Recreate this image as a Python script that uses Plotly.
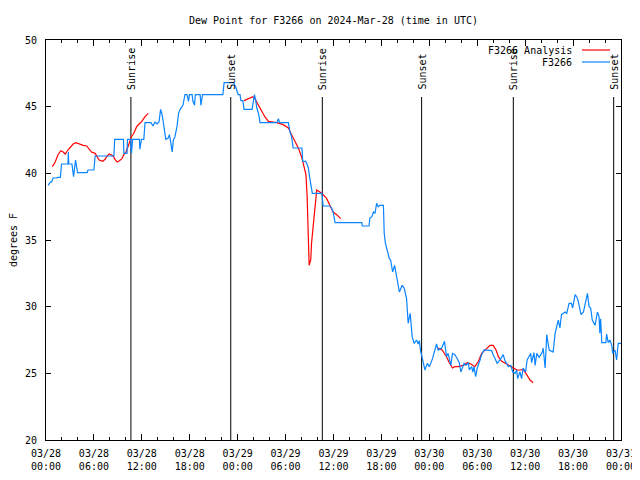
import pandas as pd
import plotly.graph_objects as go

START = pd.Timestamp("2024-03-28 00:00")

# Observed dew point (F3266): hours since 03/28 00:00 UTC, degrees F
obs_hours = [0.25, 0.5, 0.75, 0.88, 1.25, 1.5, 1.8, 1.95, 2.75, 2.8, 2.85, 3.25, 3.45, 3.7, 3.95,
             5.15, 5.25, 6.0, 6.15, 8.5, 8.6, 9.7, 9.75, 10.15, 10.2, 10.6, 10.7, 10.85, 11.7, 11.75,
             11.95, 12.25, 12.4, 13.15, 13.4, 13.65, 13.9, 14.15, 14.35, 14.5, 14.65, 14.85, 15.0,
             15.3, 15.45, 15.6, 15.8, 15.95, 16.15, 16.4, 16.6, 16.8, 17.15, 17.4, 17.65, 17.85,
             17.95, 18.3, 18.4, 18.6, 18.7, 19.3, 19.4, 19.6, 22.15, 22.3, 23.5, 23.8, 24.05, 24.3,
             24.4, 24.65, 24.8, 25.8, 26.0, 26.1, 26.25, 26.4, 26.65, 26.8, 28.9, 29.1, 29.25, 30.35,
             30.55, 30.75, 30.95, 32.05, 32.15, 32.5, 32.65, 32.85, 33.0, 33.2, 33.35, 34.55, 34.7,
             35.55, 35.75, 35.95, 36.2, 39.55, 39.6, 40.45, 40.55, 40.8, 41.0, 41.2, 41.4, 41.6, 41.8,
             42.25, 42.35, 42.5, 42.75, 43.0, 43.15, 43.4, 43.65, 44.0, 44.25, 44.6, 44.85, 45.15,
             45.35, 45.6, 45.85, 46.1, 46.4, 46.6, 46.75, 46.9, 47.05, 47.45, 47.75, 48.0, 48.4, 48.9,
             49.1, 49.55, 49.9, 50.15, 50.35, 50.7, 50.9, 51.2, 51.5, 51.75, 51.95, 52.35, 52.6, 52.9,
             53.0, 53.3, 53.45, 53.6, 53.8, 54.0, 54.35, 54.55, 54.85, 55.8, 56.0, 56.5, 56.85, 57.25,
             57.5, 57.9, 58.2, 58.45, 58.75, 58.95, 59.05, 59.35, 59.55, 59.75, 60.05, 60.25, 60.7,
             60.8, 61.1, 61.25, 61.45, 61.75, 62.15, 62.25, 62.5, 62.7, 63.0, 63.5, 63.75, 63.85,
             64.15, 64.35, 64.55, 65.0, 65.2, 65.5, 65.8, 65.95, 66.25, 66.45, 66.65, 67.0, 67.3,
             67.8, 68.0, 68.2, 68.4, 68.75, 69.05, 69.25, 69.35, 69.45, 69.6, 70.1, 70.2, 70.4, 70.6,
             70.85, 70.95, 71.25, 71.45, 71.65, 72.0]
obs_dewpt = [39.1, 39.3, 39.4, 39.65, 39.65, 39.7, 39.7, 40.7, 40.7, 41.6, 40.7, 40.7, 39.75, 41.0, 40.05,
             40.05, 40.25, 40.25, 41.3, 41.3, 42.55, 42.55, 41.5, 41.5, 42.55, 42.55, 41.5, 42.55, 42.55, 41.8,
             42.55, 42.55, 43.8, 43.8, 43.55, 43.85, 43.7, 43.85, 44.8, 44.5, 44.0, 43.25, 42.55,
             42.65, 42.9, 42.4, 41.6, 42.5, 42.75, 43.5, 44.5, 44.8, 45.1, 45.9, 45.9, 45.4,
             45.9, 45.9, 45.4, 45.1, 45.9, 45.9, 45.1, 45.9, 45.9, 46.8, 46.8, 46.4, 45.9, 45.9,
             45.45, 45.45, 44.8, 44.8, 45.7, 45.9, 45.5, 44.9, 44.4, 43.8, 43.8, 44.1, 43.8, 43.8,
             43.1, 42.75, 41.9, 41.9, 40.9, 40.9, 40.75, 40.4, 39.75, 39.0, 38.5, 38.5, 37.55,
             37.55, 37.4, 37.1, 36.3, 36.3, 36.05, 36.05, 36.65, 36.75, 37.1, 37.0, 37.75, 37.5, 37.6,
             37.6, 35.5, 34.75, 34.25, 33.6, 33.5, 32.6, 33.1, 31.9, 31.1, 31.6, 31.4, 30.6,
             28.75, 29.5, 27.75, 27.25, 27.5, 27.2, 27.45, 26.7, 26.25, 25.25, 25.75, 25.5, 26.1, 27.2,
             26.75, 26.9, 27.4, 26.25, 26.5, 25.6, 26.5, 26.4, 26.1, 25.8, 25.1, 25.75, 25.6, 25.8,
             25.25, 25.5, 25.1, 25.5, 24.75, 25.4, 26.0, 26.4, 26.75, 26.7, 26.4, 25.75, 26.0, 26.4,
             25.9, 25.5, 25.6, 25.1, 25.0, 25.25, 24.6, 25.1, 24.6, 25.4, 25.1, 26.0, 26.5,
             25.8, 26.55, 25.6, 26.5, 26.2, 26.6, 26.9, 25.4, 27.9, 26.75, 26.6, 28.0, 28.25,
             29.0, 28.4, 29.4, 29.6, 29.5, 30.25, 30.25, 29.9, 30.9, 30.75, 30.4, 29.4, 29.6,
             31.0, 30.0, 29.9, 29.0, 28.6, 29.6, 29.25, 28.0, 29.1, 27.3, 27.3, 27.95, 27.3, 27.5,
             27.1, 26.5, 26.75, 26.0, 27.25, 27.25]

# Analysis dew point (F3266 Analysis), three runs separated by gaps (None)
ana_hours = [0.8, 1.15, 1.5, 1.85, 2.15, 2.4, 2.75, 3.15, 3.4, 3.75, 4.15, 4.65, 5.1, 5.4, 5.7, 6.15,
             6.4, 6.65, 7.1, 7.4, 7.6, 7.9, 8.15, 8.4, 8.65, 8.9, 9.2, 9.5, 9.75, 10.0, 10.3, 10.5,
             10.7, 11.0, 11.35, 11.65, 12.0, 12.4, 12.8, None,
             24.8, 25.35, 25.9, 26.15, 26.6, 27.0, 27.4, 27.85, 28.9, 29.7, 30.35, 30.75, 31.2, 31.6,
             32.0, 32.3, 32.55, 32.7, 32.85, 32.95, 33.15, 33.25, 33.45, 33.7, 33.9, 34.3, 34.7,
             35.15, 35.55, 35.95, 36.4, 36.9, None,
             49.1, 49.6, 50.15, 50.45, 50.9, 51.2, 51.6, 52.25, 52.75, 53.2, 53.7, 54.15, 54.55,
             54.95, 55.6, 56.0, 56.35, 56.65, 57.05, 57.7, 58.3, 58.95, 59.35, 59.75, 60.2, 60.6, 61.0]
ana_dewpt = [40.5, 40.85, 41.4, 41.7, 41.6, 41.45, 41.75, 42.0, 42.2, 42.3, 42.2, 42.1, 42.05, 41.85, 41.6, 41.5,
             41.2, 41.0, 40.9, 41.05, 41.25, 41.45, 41.4, 41.3, 41.05, 40.85, 40.95, 41.1, 41.4, 41.6, 42.05, 42.4,
             42.75, 43.0, 43.5, 43.7, 43.9, 44.25, 44.5, None,
             45.45, 45.6, 45.75, 45.6, 45.1, 44.75, 44.25, 43.9, 43.8, 43.65, 43.4, 42.9, 42.4, 41.9,
             41.25, 40.6, 39.9, 38.25, 34.75, 33.1, 33.5, 34.75, 36.0, 37.5, 38.75, 38.6, 38.4,
             38.1, 37.6, 37.1, 36.9, 36.6, None,
             26.9, 26.75, 26.25, 25.85, 25.4, 25.5, 25.5, 25.6, 25.8, 25.7, 25.5, 25.9, 26.5,
             26.75, 27.1, 27.1, 26.75, 26.25, 25.9, 25.7, 25.5, 25.25, 25.25, 25.3, 24.9, 24.5, 24.3]

# Sunrise / sunset events (UTC)
sun_labels = ["Sunrise", "Sunset", "Sunrise", "Sunset", "Sunrise", "Sunset"]
sun_times = ["2024-03-28 10:38", "2024-03-28 23:08", "2024-03-29 10:36",
             "2024-03-29 23:02", "2024-03-30 10:31", "2024-03-30 23:05"]

# X tick labels every 6 hours
tick_times = pd.date_range("2024-03-28 00:00", "2024-03-31 00:00", freq="6h")
tick_labels = [t.strftime("%m/%d") + "<br>" + t.strftime("%H:%M") for t in tick_times]


def to_time(hours):
    return [None if h is None else START + pd.Timedelta(hours=h) for h in hours]


FONT = "DejaVu Sans Mono"
RED = "#ff0000"
BLUE = "#0a84ff"

# the page body adds an 8px offset, so the figure is 8px smaller than the window
W, H = 632, 472

fig = go.Figure()
fig.add_trace(go.Scatter(x=to_time(ana_hours), y=ana_dewpt, mode="lines", name="F3266 Analysis",
                         line=dict(color=RED, width=1.2), connectgaps=False))
fig.add_trace(go.Scatter(x=to_time(obs_hours), y=obs_dewpt, mode="lines", name="F3266",
                         line=dict(color=BLUE, width=1.2)))

line_top = (440 - 97) / 400.0
text_bottom = (440 - 92) / 400.0
for lab, t in zip(sun_labels, sun_times):
    fig.add_shape(type="line", xref="x", yref="paper", x0=t, x1=t, y0=0, y1=line_top,
                  line=dict(color="black", width=1), layer="below")
    fig.add_annotation(x=t, xref="x", y=text_bottom, yref="paper", text=lab, textangle=-90,
                       showarrow=False, xanchor="center", yanchor="bottom",
                       font=dict(family=FONT, size=10, color="black"))

# custom legend (text on the left, line sample on the right, as in the original)
leg_text_x = (574 - 46) / 575.0
leg_x0 = (582 - 46) / 575.0
leg_x1 = (610 - 46) / 575.0
for i, (name, col) in enumerate([("F3266 Analysis", RED), ("F3266", BLUE)]):
    yy = (440 - (50 + 12 * i)) / 400.0
    fig.add_annotation(x=leg_text_x, xref="paper", y=yy, yref="paper", text=name, showarrow=False,
                       xanchor="right", yanchor="middle", font=dict(family=FONT, size=10, color="black"))
    fig.add_shape(type="line", xref="paper", yref="paper", x0=leg_x0, x1=leg_x1, y0=yy, y1=yy,
                  line=dict(color=col, width=1.2))

fig.update_layout(
    width=W, height=H,
    margin=dict(l=38, r=19, t=32, b=40, autoexpand=False),
    paper_bgcolor="white", plot_bgcolor="white",
    showlegend=False,
    font=dict(family=FONT, size=10, color="black"),
    title=dict(text="Dew Point for F3266 on 2024-Mar-28 (time in UTC)", x=0.5, xref="paper",
               xanchor="center", y=1 - 12 / H, yref="container", yanchor="middle",
               font=dict(family=FONT, size=10, color="black")),
)
fig.update_xaxes(
    type="date", range=["2024-03-28 00:00", "2024-03-31 00:00"], automargin=False,
    tickmode="array", tickvals=list(tick_times), ticktext=tick_labels,
    ticks="inside", ticklen=6, tickcolor="black", tickwidth=1,
    minor=dict(tickmode="linear", tick0="2024-03-28 00:00", dtick=2 * 3600 * 1000,
               ticks="inside", ticklen=3, tickcolor="black", tickwidth=1, showgrid=False),
    showline=True, linecolor="black", linewidth=1, mirror="ticks",
    showgrid=False, zeroline=False, ticklabelstandoff=4,
    tickfont=dict(family=FONT, size=10, color="black"),
)
fig.update_yaxes(
    range=[20, 50], tickmode="linear", tick0=20, dtick=5, automargin=False,
    ticks="inside", ticklen=5, tickcolor="black", tickwidth=1,
    showline=True, linecolor="black", linewidth=1, mirror="ticks",
    showgrid=False, zeroline=False, ticklabelstandoff=6,
    tickfont=dict(family=FONT, size=10, color="black"),
    title=dict(text="degrees F", standoff=16, font=dict(family=FONT, size=10, color="black")),
)

fig.write_html("out.html")
